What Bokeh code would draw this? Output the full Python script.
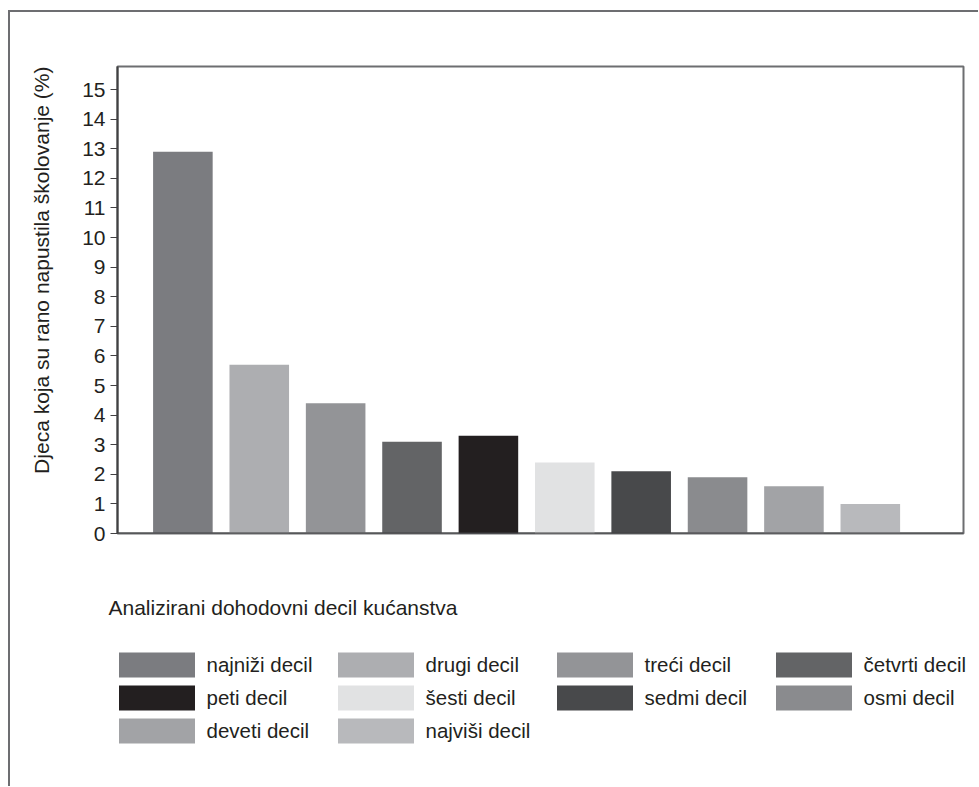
import numpy as np
from bokeh.plotting import figure
from bokeh.models import (ColumnDataSource, Range1d, Legend, LegendItem,
                          SingleIntervalTicker, Title, Span)
from bokeh.embed import file_html
from bokeh.resources import INLINE

categories = ["najniži decil", "drugi decil", "treći decil", "četvrti decil", "peti decil",
              "šesti decil", "sedmi decil", "osmi decil", "deveti decil", "najviši decil"]
values = [12.9, 5.7, 4.4, 3.1, 3.3, 2.4, 2.1, 1.9, 1.6, 1.0]
colors = ["#7b7c80", "#adaeb1", "#939497", "#636466", "#231f20",
          "#e1e2e3", "#48494b", "#8a8b8e", "#a2a3a6", "#b8b9bc"]
y_label = "Djeca koja su rano napustila školovanje (%)"
legend_title = "Analizirani dohodovni decil kućanstva"

FONT = "Liberation Sans"
TXT = "#231f20"
FRAME_GREY = "#6d6e71"
LINE = f"linear-gradient({FRAME_GREY}, {FRAME_GREY})"

src = ColumnDataSource(dict(x=np.arange(len(values)), top=values, color=colors, cat=categories))

# ---- main chart ----
p = figure(width=978, height=545, output_backend="svg", toolbar_location=None,
           x_axis_location=None,
           x_range=Range1d(-0.856, 10.22), y_range=Range1d(0, 15.78),
           min_border_left=116, min_border_top=66, min_border_right=15, min_border_bottom=12)
p.border_fill_alpha = 0
# outer page frame (top and left edges), drawn behind the transparent canvas border
p.styles = {"background-image": f"{LINE}, {LINE}",
            "background-repeat": "no-repeat",
            "background-size": "2px calc(100% - 10px), calc(100% - 8px) 2px",
            "background-position": "8px 10px, 8px 10px"}

r = p.vbar(x="x", top="top", width=0.78, bottom=0, fill_color="color", line_color=None, source=src)

p.xgrid.visible = False
p.ygrid.visible = False
p.outline_line_color = FRAME_GREY
p.outline_line_width = 2
p.add_layout(Span(location=0, dimension="width", line_color="#414042", line_width=2))

p.yaxis.ticker = SingleIntervalTicker(interval=1)
p.yaxis.minor_tick_line_color = None
p.yaxis.major_tick_out = 7
p.yaxis.major_tick_in = 0
p.yaxis.major_tick_line_color = "#414042"
p.yaxis.axis_line_color = "#414042"
p.yaxis.axis_line_width = 2
p.yaxis.major_label_text_font = FONT
p.yaxis.major_label_text_font_size = "21px"
p.yaxis.major_label_text_color = TXT
p.yaxis.major_label_standoff = 5

ytitle = Title(text=y_label, align="right", offset=0, text_font=FONT, text_font_size="21px",
               text_font_style="normal", text_color=TXT, standoff=54)
p.add_layout(ytitle, "left")

# ---- legend panel (same data, bars kept out of view) ----
pl = figure(width=978, height=241, output_backend="svg", toolbar_location=None,
            x_axis_location=None, y_axis_location=None,
            x_range=Range1d(-0.856, 10.22), y_range=Range1d(1000, 1001),
            min_border=0)
pl.background_fill_alpha = 0
pl.border_fill_alpha = 0
pl.styles = {"background-image": LINE, "background-repeat": "no-repeat",
             "background-size": "2px 100%", "background-position": "8px 0"}
pl.xgrid.visible = False
pl.ygrid.visible = False
pl.outline_line_color = None
rl = pl.vbar(x="x", top="top", width=0.78, bottom=0, fill_color="color", line_color=None, source=src)

legend_items = [LegendItem(label=categories[i], renderers=[rl], index=i) for i in range(len(categories))]
lg = Legend(items=legend_items, orientation="horizontal", ncols=4,
            location=(108.5, 40),
            glyph_width=95, glyph_height=31, label_height=31, spacing=2,
            label_standoff=3, label_width=119, padding=0, margin=0,
            border_line_alpha=0, background_fill_alpha=0,
            label_text_font=FONT, label_text_font_size="20.5px", label_text_color=TXT,
            title=legend_title, title_text_font=FONT, title_text_font_size="21px",
            title_text_font_style="normal", title_text_color=TXT, title_standoff=29)
pl.add_layout(lg, "center")

open("out.html", "w").write(file_html([p, pl], INLINE))
